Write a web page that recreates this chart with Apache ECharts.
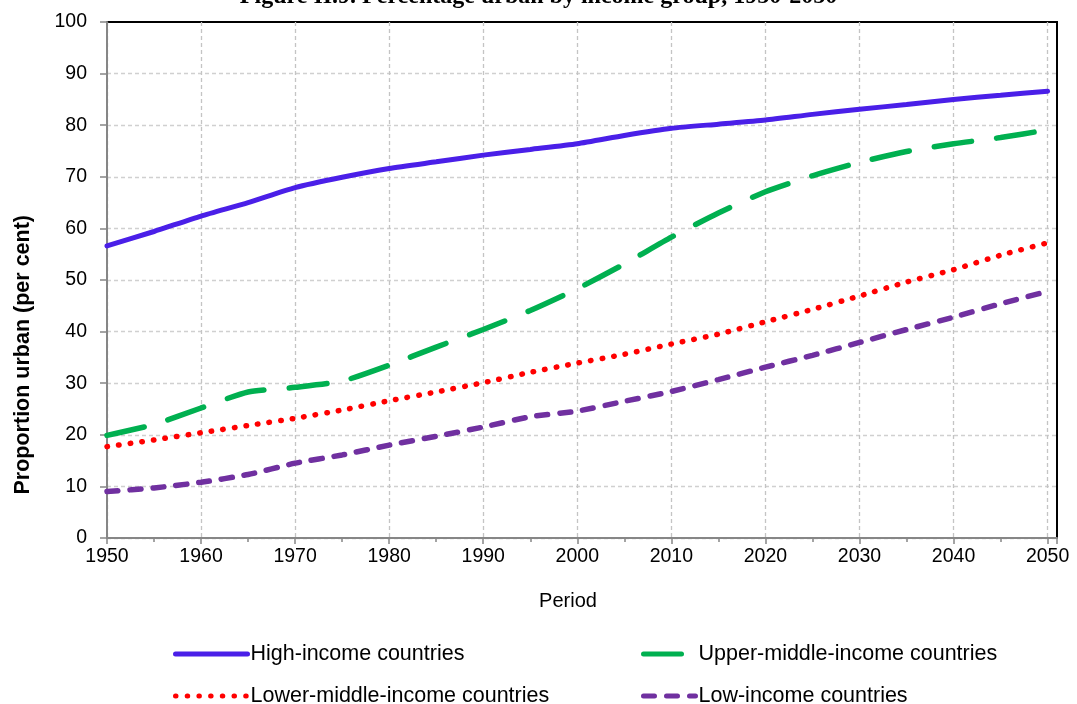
<!DOCTYPE html>
<html>
<head>
<meta charset="utf-8">
<script src="https://cdn.jsdelivr.net/npm/echarts@6/dist/echarts.min.js"></script>
<style>
html,body{margin:0;padding:0;background:#fff;}
#chart{width:1077px;height:704px;}
</style>
</head>
<body>
<div id="chart"></div>
<script>
var years = [1950,1955,1960,1965,1970,1975,1980,1985,1990,1995,2000,2005,2010,2015,2020,2025,2030,2035,2040,2045,2050];
var highIncome = [56.6,59.4,62.4,65.0,67.9,69.9,71.6,72.9,74.2,75.3,76.4,78.0,79.4,80.2,81.0,82.1,83.1,84.0,85.0,85.8,86.6];
var upperMiddle = [19.9,22.0,25.2,28.3,29.2,30.4,33.5,37.0,40.4,44.1,48.3,53.1,58.3,63.0,67.1,70.2,72.8,74.9,76.4,77.6,79.1];
var lowerMiddle = [17.7,19.0,20.4,21.8,23.2,24.8,26.6,28.3,30.1,32.1,33.9,35.6,37.6,39.5,41.9,44.3,46.9,49.6,52.0,54.8,57.2];
var lowIncome = [9.0,9.7,10.8,12.3,14.5,16.1,18.0,19.7,21.5,23.5,24.6,26.5,28.4,30.7,33.1,35.4,37.9,40.4,42.8,45.4,47.8];
var seriesNames = ['High-income countries','Upper-middle-income countries','Lower-middle-income countries','Low-income countries'];

function pairs(vals){
	var ret=[];
	for(var i=0;i<years.length;i++){
		ret.push([years[i],vals[i]]);
	}
	return ret;
}

var sansFont = '"Liberation Sans", Arial, sans-serif';
var myChart = echarts.init(document.getElementById('chart'));

function oneLegend(name,left,top,w){
	return {
		data:[name],
		left:left,
		top:top,
		padding:0,
		itemWidth:w,
		itemHeight:14,
		itemGap:0,
		selectedMode:false,
		itemStyle:{opacity:0},
		lineStyle:{width:5},
		textStyle:{fontFamily:sansFont,fontSize:21.5,color:'#000',padding:[0,0,0,-2]}
	};
}

var option = {
	animation:false,
	backgroundColor:'#fff',
	title:{
		text:'Figure II.9. Percentage urban by income group, 1950-2050',
		left:'center',
		top:-15,
		padding:0,
		textStyle:{fontFamily:'"Liberation Serif", "Times New Roman", serif',fontSize:24,fontWeight:'bold',color:'#000'}
	},
	grid:{
		left:107,
		right:20,
		top:22,
		bottom:166,
		show:true,
		borderColor:'#000',
		borderWidth:2
	},
	legend:[
		oneLegend(seriesNames[0],173,643,72),
		oneLegend(seriesNames[1],641,643,52),
		oneLegend(seriesNames[2],173,685,72),
		oneLegend(seriesNames[3],641,685,52)
	],
	graphic:[{
		type:'text',
		left:12,
		top:215,
		rotation:Math.PI/2,
		style:{
			text:'Proportion urban (per cent)',
			font:'bold 21.5px '+sansFont,
			fill:'#000'
		}
	}],
	xAxis:{
		type:'value',
		min:1950,
		max:2051,
		interval:10,
		name:'Period',
		nameLocation:'middle',
		nameGap:53,
		nameTextStyle:{fontFamily:sansFont,fontSize:20,color:'#000',padding:[0,28,0,0]},
		axisLine:{onZero:false,lineStyle:{color:'#868686',width:2}},
		axisTick:{length:6,lineStyle:{color:'#868686',width:1.5}},
		minorTick:{show:true,splitNumber:2,length:4,lineStyle:{color:'#868686',width:1.5}},
		axisLabel:{
			fontFamily:sansFont,fontSize:19.5,color:'#000',margin:9,showMaxLabel:false,
			formatter:function(v){return v%10===0?String(v):'';}
		},
		splitLine:{show:true,showMaxLine:false,lineStyle:{color:'#c4c4c4',width:1.3,type:[4,3]}}
	},
	yAxis:{
		type:'value',
		min:0,
		max:100,
		interval:10,
		axisLine:{show:true,lineStyle:{color:'#868686',width:2}},
		axisTick:{show:true,length:7,lineStyle:{color:'#868686',width:1.5}},
		axisLabel:{fontFamily:sansFont,fontSize:19.5,color:'#000',margin:20},
		splitLine:{show:true,showMaxLine:false,lineStyle:{color:'#d0d0d0',width:1.3,type:[4,3]}}
	},
	series:[
		{
			name:seriesNames[0],
			type:'line',
			symbol:'none',
			smooth:0.2,
			data:pairs(highIncome),
			itemStyle:{color:'#4a1fe8'},
			lineStyle:{color:'#4a1fe8',width:5,cap:'round'}
		},
		{
			name:seriesNames[1],
			type:'line',
			symbol:'none',
			smooth:0.2,
			data:pairs(upperMiddle),
			itemStyle:{color:'#00b050'},
			lineStyle:{color:'#00b050',width:5.5,type:[38,25],cap:'round'}
		},
		{
			name:seriesNames[2],
			type:'line',
			symbol:'none',
			smooth:0.2,
			data:pairs(lowerMiddle),
			itemStyle:{color:'#ff0000'},
			lineStyle:{color:'#ff0000',width:5.5,type:[0.5,11.2],cap:'round'}
		},
		{
			name:seriesNames[3],
			type:'line',
			symbol:'none',
			smooth:0.2,
			data:pairs(lowIncome),
			itemStyle:{color:'#7030a0'},
			lineStyle:{color:'#7030a0',width:5.5,type:[11,12],cap:'round'}
		}
	]
};
myChart.setOption(option);
</script>
</body>
</html>
